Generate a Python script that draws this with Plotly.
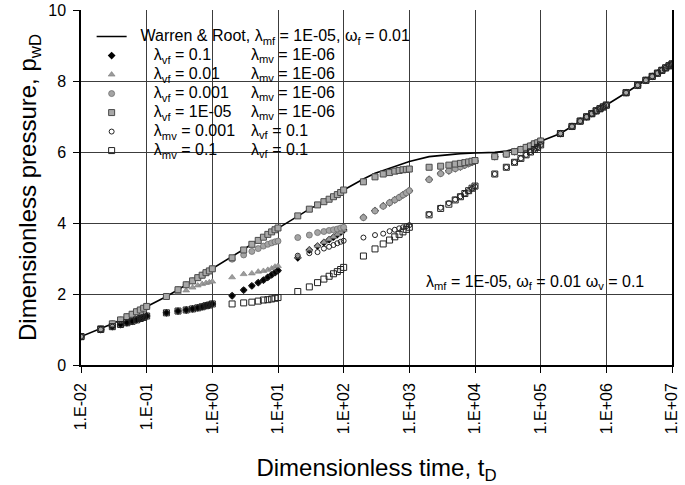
import plotly.graph_objects as go

# dimensionless time grid: t = 0.01, then 2..10 x 10^n for each decade
MULTIPLIERS = [2, 3, 4, 5, 6, 7, 8, 9, 10]
DECADES = [-2, -1, 0, 1, 2, 3, 4, 5, 6]
t_d = [0.01] + [m * 10.0 ** d for d in DECADES for m in MULTIPLIERS]

# Warren & Root, lambda_mf = 1E-05, omega_f = 0.01
warren_root = [
    0.80,
    1.02, 1.16, 1.27, 1.36, 1.43, 1.50, 1.55, 1.60, 1.65,
    1.93, 2.12, 2.26, 2.37, 2.46, 2.53, 2.60, 2.65, 2.71,
    3.05, 3.26, 3.40, 3.51, 3.60, 3.68, 3.75, 3.81, 3.86,
    4.20, 4.39, 4.51, 4.60, 4.67, 4.74, 4.80, 4.86, 4.93,
    5.24, 5.40, 5.48, 5.54, 5.59, 5.63, 5.67, 5.70, 5.73,
    5.87, 5.91, 5.93, 5.94, 5.95, 5.95, 5.96, 5.96, 5.97,
    5.99, 6.03, 6.08, 6.12, 6.16, 6.20, 6.24, 6.27, 6.30,
    6.52, 6.72, 6.87, 6.99, 7.08, 7.16, 7.22, 7.27, 7.32,
    7.67, 7.88, 8.02, 8.13, 8.22, 8.30, 8.37, 8.43, 8.48,
]

# lambda_vf = 0.1, lambda_mv = 1E-06
vf_01 = [
    0.80,
    1.00, 1.08, 1.14, 1.19, 1.23, 1.27, 1.31, 1.34, 1.38,
    1.47, 1.52, 1.55, 1.58, 1.61, 1.64, 1.67, 1.69, 1.72,
    1.95, 2.11, 2.23, 2.32, 2.39, 2.47, 2.54, 2.60, 2.66,
    3.02, 3.24, 3.35, 3.45, 3.53, 3.60, 3.67, 3.74, 3.80,
    4.16, 4.35, 4.48, 4.57, 4.65, 4.72, 4.79, 4.85, 4.91,
    5.23, 5.40, 5.47, 5.53, 5.58, 5.63, 5.67, 5.71, 5.75,
    5.87, 5.94, 6.01, 6.07, 6.13, 6.17, 6.23, 6.26, 6.31,
    6.52, 6.72, 6.87, 6.99, 7.08, 7.16, 7.22, 7.27, 7.32,
    7.67, 7.88, 8.02, 8.13, 8.22, 8.30, 8.37, 8.43, 8.48,
]

# lambda_vf = 0.01, lambda_mv = 1E-06
vf_001 = [
    0.80,
    1.02, 1.16, 1.27, 1.36, 1.43, 1.50, 1.55, 1.60, 1.65,
    1.93, 2.04, 2.10, 2.18, 2.24, 2.28, 2.31, 2.33, 2.35,
    2.47, 2.56, 2.58, 2.63, 2.65, 2.68, 2.72, 2.77, 2.79,
    3.05, 3.25, 3.36, 3.46, 3.54, 3.61, 3.68, 3.74, 3.80,
    4.17, 4.36, 4.48, 4.58, 4.66, 4.73, 4.80, 4.86, 4.92,
    5.24, 5.40, 5.47, 5.53, 5.58, 5.63, 5.67, 5.71, 5.75,
    5.88, 5.95, 6.02, 6.08, 6.13, 6.18, 6.23, 6.27, 6.31,
    6.52, 6.72, 6.87, 6.99, 7.08, 7.16, 7.22, 7.27, 7.32,
    7.67, 7.88, 8.02, 8.13, 8.22, 8.30, 8.37, 8.43, 8.48,
]

# lambda_vf = 0.001, lambda_mv = 1E-06
vf_0001 = [
    0.80,
    1.02, 1.16, 1.27, 1.36, 1.43, 1.50, 1.55, 1.60, 1.65,
    1.93, 2.12, 2.26, 2.37, 2.46, 2.53, 2.60, 2.65, 2.71,
    2.98, 3.10, 3.20, 3.28, 3.35, 3.40, 3.44, 3.47, 3.49,
    3.59, 3.66, 3.73, 3.76, 3.79, 3.81, 3.83, 3.86, 3.88,
    4.15, 4.34, 4.47, 4.57, 4.65, 4.72, 4.79, 4.85, 4.91,
    5.22, 5.39, 5.47, 5.53, 5.58, 5.63, 5.67, 5.71, 5.75,
    5.87, 5.94, 6.01, 6.07, 6.13, 6.17, 6.23, 6.26, 6.31,
    6.52, 6.72, 6.87, 6.99, 7.08, 7.16, 7.22, 7.27, 7.32,
    7.67, 7.88, 8.02, 8.13, 8.22, 8.30, 8.37, 8.43, 8.48,
]

# lambda_vf = 1E-05, lambda_mv = 1E-06
vf_1e5 = [
    0.80,
    1.02, 1.16, 1.27, 1.36, 1.43, 1.50, 1.55, 1.60, 1.65,
    1.93, 2.12, 2.26, 2.37, 2.46, 2.53, 2.60, 2.65, 2.71,
    3.02, 3.24, 3.40, 3.51, 3.60, 3.68, 3.75, 3.81, 3.86,
    4.20, 4.39, 4.51, 4.60, 4.67, 4.74, 4.80, 4.86, 4.93,
    5.16, 5.30, 5.38, 5.42, 5.46, 5.48, 5.50, 5.51, 5.52,
    5.57, 5.60, 5.63, 5.66, 5.68, 5.70, 5.72, 5.74, 5.76,
    5.87, 5.94, 6.01, 6.07, 6.13, 6.17, 6.23, 6.26, 6.31,
    6.52, 6.72, 6.87, 6.99, 7.08, 7.16, 7.22, 7.27, 7.32,
    7.67, 7.88, 8.02, 8.13, 8.22, 8.30, 8.37, 8.43, 8.48,
]

# lambda_mv = 0.001, lambda_vf = 0.1
mv_0001 = [
    0.80,
    1.00, 1.08, 1.14, 1.19, 1.23, 1.27, 1.31, 1.34, 1.38,
    1.47, 1.52, 1.55, 1.58, 1.61, 1.64, 1.67, 1.69, 1.72,
    1.95, 2.11, 2.23, 2.32, 2.39, 2.47, 2.54, 2.60, 2.66,
    3.08, 3.15, 3.18, 3.28, 3.33, 3.38, 3.43, 3.47, 3.50,
    3.59, 3.66, 3.70, 3.77, 3.81, 3.85, 3.88, 3.91, 3.94,
    4.25, 4.43, 4.56, 4.66, 4.75, 4.83, 4.90, 4.97, 5.03,
    5.38, 5.57, 5.71, 5.82, 5.92, 6.00, 6.07, 6.13, 6.20,
    6.52, 6.72, 6.87, 6.99, 7.08, 7.16, 7.22, 7.27, 7.32,
    7.67, 7.88, 8.02, 8.13, 8.22, 8.30, 8.37, 8.43, 8.48,
]

# lambda_mv = 0.1, lambda_vf = 0.1
mv_01 = [
    0.80,
    1.00, 1.08, 1.14, 1.19, 1.23, 1.27, 1.31, 1.34, 1.38,
    1.47, 1.52, 1.55, 1.58, 1.61, 1.64, 1.67, 1.69, 1.72,
    1.72, 1.75, 1.77, 1.80, 1.83, 1.84, 1.86, 1.88, 1.90,
    2.07, 2.20, 2.32, 2.42, 2.50, 2.57, 2.63, 2.69, 2.75,
    3.07, 3.27, 3.41, 3.52, 3.61, 3.68, 3.75, 3.82, 3.88,
    4.23, 4.41, 4.53, 4.65, 4.74, 4.83, 4.91, 4.98, 5.04,
    5.38, 5.57, 5.71, 5.82, 5.92, 6.00, 6.07, 6.13, 6.20,
    6.52, 6.72, 6.87, 6.99, 7.08, 7.16, 7.22, 7.27, 7.32,
    7.67, 7.88, 8.02, 8.13, 8.22, 8.30, 8.37, 8.43, 8.48,
]

tick_vals = [1e-2, 1e-1, 1e0, 1e1, 1e2, 1e3, 1e4, 1e5, 1e6, 1e7]
tick_text = ["1.E-02", "1.E-01", "1.E+00", "1.E+01", "1.E+02",
             "1.E+03", "1.E+04", "1.E+05", "1.E+06", "1.E+07"]

FONT = "Arial, 'Liberation Sans', sans-serif"
BIG = "<span style='font-size:16px'>{}</span>"

marker_series = [
    ("λ<sub>vf</sub> = 0.1", "λ<sub>mv</sub> = 1E-06", vf_01,
     dict(symbol="diamond", size=6, color="black")),
    ("λ<sub>vf</sub> = 0.01", "λ<sub>mv</sub> = 1E-06", vf_001,
     dict(symbol="triangle-up", size=6, color="#9c9c9c", line=dict(color="#7a7a7a", width=0.6))),
    ("λ<sub>vf</sub> = 0.001", "λ<sub>mv</sub> = 1E-06", vf_0001,
     dict(symbol="circle", size=6, color="#a4a4a4", line=dict(color="#6e6e6e", width=0.8))),
    ("λ<sub>vf</sub> = 1E-05", "λ<sub>mv</sub> = 1E-06", vf_1e5,
     dict(symbol="square", size=6, color="#a8a8a8", line=dict(color="#4a4a4a", width=1))),
    ("λ<sub>mv</sub> = 0.001", "λ<sub>vf</sub> = 0.1", mv_0001,
     dict(symbol="circle-open", size=5, color="#222222", line=dict(width=1))),
    ("λ<sub>mv</sub> = 0.1", "λ<sub>vf</sub> = 0.1", mv_01,
     dict(symbol="square-open", size=6, color="#222222", line=dict(width=1))),
]

fig = go.Figure()
fig.add_trace(
    go.Scatter(
        x=t_d,
        y=warren_root,
        mode="lines",
        name=BIG.format("\u00a0\u00a0Warren & Root, λ<sub>mf</sub> = 1E-05, ω<sub>f</sub> = 0.01"),
        line=dict(color="black", width=1.6),
    )
)
for label, _, values, marker in marker_series:
    fig.add_trace(
        go.Scatter(
            x=t_d,
            y=values,
            mode="markers",
            name=BIG.format("\u00a0" * 5 + label),
            marker=marker,
        )
    )

# second column of the legend text
legend_rows_y = [0.872, 0.818, 0.765, 0.712, 0.658, 0.604]
for (_, second, _, _), row_y in zip(marker_series, legend_rows_y):
    fig.add_annotation(
        x=0.285, y=row_y, xref="paper", yref="paper",
        text=second, showarrow=False, xanchor="left", yanchor="middle",
        font=dict(size=16, color="black", family=FONT),
    )

fig.add_annotation(
    x=0.768, y=0.232, xref="paper", yref="paper",
    text="λ<sub>mf</sub> = 1E-05, ω<sub>f</sub> = 0.01 ω<sub>v</sub> = 0.1",
    showarrow=False, xanchor="center", yanchor="middle",
    font=dict(size=16, color="black", family=FONT),
)

fig.update_layout(
    width=685,
    height=485,
    margin=dict(l=81, r=13, t=10, b=120),
    paper_bgcolor="white",
    plot_bgcolor="white",
    font=dict(family=FONT, color="black"),
    showlegend=True,
    legend=dict(
        x=0.018, y=0.966, xanchor="left", yanchor="top",
        bgcolor="rgba(0,0,0,0)", borderwidth=0,
        font=dict(size=12.2, color="black", family=FONT),
        itemwidth=30, tracegroupgap=0,
    ),
    xaxis=dict(
        type="log",
        range=[-2, 7],
        tickvals=tick_vals,
        ticktext=tick_text,
        tickangle=-90,
        tickfont=dict(size=16),
        ticks="outside", ticklen=6, tickcolor="black",
        ticklabelstandoff=4,
        showline=True, linecolor="black", linewidth=1.5,
        showgrid=True, gridcolor="#3c3c3c", gridwidth=1,
        zeroline=False, automargin=False,
        title=dict(text="Dimensionless time, t<sub>D</sub>", font=dict(size=24), standoff=26),
    ),
    yaxis=dict(
        range=[0, 10],
        dtick=2,
        tickfont=dict(size=16),
        ticks="outside", ticklen=6, tickcolor="black",
        ticklabelstandoff=4,
        showline=True, linecolor="black", linewidth=1.5, mirror=True,
        showgrid=True, gridcolor="#3c3c3c", gridwidth=1,
        zeroline=False, automargin=False,
        title=dict(text="Dimensionless pressure, p<sub>wD</sub>", font=dict(size=24), standoff=5),
    ),
)

# drop the browser's default 8px body margin so the figure sits at the page corner
fig.write_html(
    "out.html",
    config={"displayModeBar": False},
    post_script="document.body.style.margin = '0px';",
)
